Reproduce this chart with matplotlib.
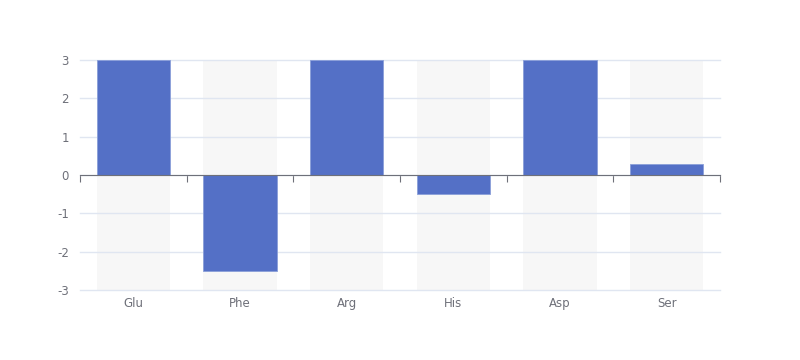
import matplotlib.pyplot as plt
import numpy as np

# data
categorias = ['Glu', 'Phe', 'Arg', 'His', 'Asp', 'Ser']
valores = [3, -2.5, 3, -0.5, 3, 0.3]
yticks = [-3, -2, -1, 0, 1, 2, 3]

azul = '#5470c6'
gris_txt = '#6e7079'
plt.rcParams['axes.unicode_minus'] = False

fig = plt.figure(figsize=(8, 3.6), dpi=100)
ax = fig.add_axes([0.1, 0.1944, 0.8, 0.6389])

x = np.arange(len(categorias))
ancho = 0.69
# fondo de cada barra (alto completo)
ax.bar(x, [6] * len(x), bottom=-3, width=ancho, color='#f7f7f7', zorder=1)
ax.bar(x, valores, width=ancho, color=azul, edgecolor='#8a9fd9', linewidth=0.6, zorder=3)

ax.set_xlim(-0.5, len(x) - 0.5)
ax.set_ylim(-3, 3)
ax.set_yticks(yticks)
ax.yaxis.grid(True, color='#e0e6f1', linewidth=1, zorder=2, clip_on=False)
ax.set_axisbelow(False)

for s in ['top', 'right', 'left']:
    ax.spines[s].set_visible(False)
ax.spines['bottom'].set_position(('data', 0))
ax.spines['bottom'].set_color(gris_txt)
ax.spines['bottom'].set_zorder(4)

ax.set_xticks(np.arange(-0.5, len(x), 1))
ax.set_xticklabels([])
ax.tick_params(axis='x', length=5, color=gris_txt, direction='out')
ax.tick_params(axis='y', length=0, labelcolor=gris_txt, labelsize=8.5, pad=8)

for i, c in enumerate(categorias):
    ax.annotate(c, xy=(i, -3), xytext=(0, -5), textcoords='offset points',
                ha='center', va='top', color=gris_txt, fontsize=8.5)

fig.savefig('out.png')
